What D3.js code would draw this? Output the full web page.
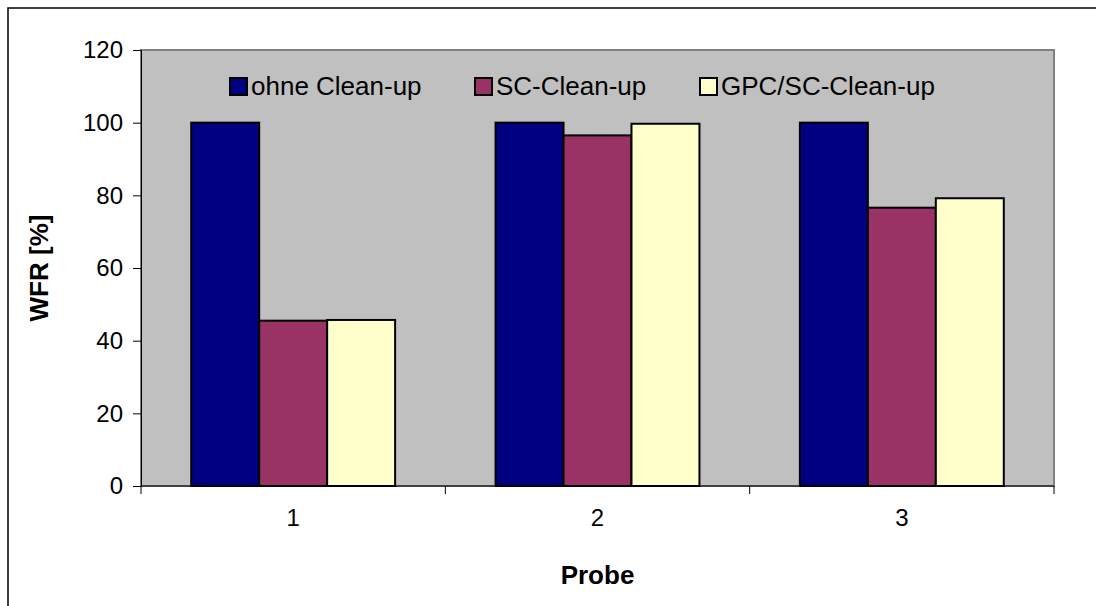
<!DOCTYPE html>
<html>
<head>
<meta charset="utf-8">
<script src="https://cdn.jsdelivr.net/npm/d3@7"></script>
<style>
  html, body { margin: 0; padding: 0; background: #fff; }
  svg { display: block; }
  text { font-family: "Liberation Sans", Arial, sans-serif; }
</style>
</head>
<body>
<svg id="chart" width="1096" height="606"></svg>
<script>
const categories = ["1", "2", "3"];
const seriesNames = ["ohne Clean-up", "SC-Clean-up", "GPC/SC-Clean-up"];
const seriesColors = ["#000080", "#993366", "#FFFFCC"];
const ohneValues = [100, 100, 100];
const scValues = [45.5, 96.5, 76.6];
const gpcValues = [45.7, 99.7, 79.2];
const yTicks = [0, 20, 40, 60, 80, 100, 120];
const yTitle = "WFR [%]";
const xTitle = "Probe";

const seriesValues = [ohneValues, scValues, gpcValues];

const svg = d3.select("#chart");
const W = 1096, H = 606;
const plot = { left: 141, top: 50, right: 1054, bottom: 486 };

// outer border (cut by right and bottom edges)
svg.append("rect")
  .attr("x", 8).attr("y", 8)
  .attr("width", W + 10).attr("height", H + 10)
  .attr("fill", "#fff").attr("stroke", "#000").attr("stroke-width", 1.5);

const x0 = d3.scaleBand().domain(categories).range([plot.left, plot.right]).paddingInner(0).paddingOuter(0);
const groupW = x0.bandwidth() * 0.67;
const x1 = d3.scaleBand().domain(d3.range(seriesNames.length)).range([0, groupW]);
const y = d3.scaleLinear().domain([0, 120]).range([plot.bottom, plot.top]);

// plot area
svg.append("rect")
  .attr("x", plot.left).attr("y", plot.top)
  .attr("width", plot.right - plot.left).attr("height", plot.bottom - plot.top)
  .attr("fill", "#C0C0C0").attr("stroke", "#808080").attr("stroke-width", 2);

// bars
const groups = svg.append("g").selectAll("g")
  .data(categories).join("g")
  .attr("transform", d => `translate(${x0(d) + (x0.bandwidth() - groupW) / 2},0)`);

groups.selectAll("rect")
  .data((d, i) => seriesValues.map((vals, s) => ({ s, v: vals[i] })))
  .join("rect")
  .attr("x", d => x1(d.s))
  .attr("width", x1.bandwidth())
  .attr("y", d => y(d.v))
  .attr("height", d => y(0) - y(d.v))
  .attr("fill", d => seriesColors[d.s])
  .attr("stroke", "#000").attr("stroke-width", 2);

// y axis
const yAxis = d3.axisLeft(y).tickValues(yTicks).tickSize(8).tickPadding(10).tickFormat(d3.format("d"));
const gy = svg.append("g").attr("transform", `translate(${plot.left},0)`).call(yAxis);
gy.select(".domain").attr("stroke", "#000").attr("stroke-width", 1);
gy.selectAll(".tick line").attr("stroke", "#000");
gy.selectAll("text").attr("font-size", 24).attr("fill", "#000")
  .style("font-family", '"Liberation Sans", Arial, sans-serif');

// x axis: ticks at category boundaries
const xAxisLine = svg.append("g");
xAxisLine.append("line")
  .attr("x1", plot.left).attr("x2", plot.right)
  .attr("y1", plot.bottom).attr("y2", plot.bottom)
  .attr("stroke", "#000").attr("stroke-width", 1);
const bounds = categories.map(c => x0(c)).concat([x0(categories[categories.length - 1]) + x0.bandwidth()]);
xAxisLine.selectAll("line.tk").data(bounds).join("line").attr("class", "tk")
  .attr("x1", d => d).attr("x2", d => d)
  .attr("y1", plot.bottom).attr("y2", plot.bottom + 8)
  .attr("stroke", "#000");
xAxisLine.selectAll("text").data(categories).join("text")
  .attr("x", d => x0(d) + x0.bandwidth() / 2)
  .attr("y", plot.bottom + 40)
  .attr("text-anchor", "middle")
  .attr("font-size", 24)
  .text(d => d);

// titles
svg.append("text")
  .attr("transform", `translate(48,${(plot.top + plot.bottom) / 2}) rotate(-90)`)
  .attr("text-anchor", "middle")
  .attr("font-size", 26).attr("font-weight", "bold")
  .text(yTitle);
svg.append("text")
  .attr("x", (plot.left + plot.right) / 2)
  .attr("y", 584)
  .attr("text-anchor", "middle")
  .attr("font-size", 26).attr("font-weight", "bold")
  .text(xTitle);

// legend
const legendX = [230, 475, 700];
const leg = svg.append("g").selectAll("g").data(seriesNames).join("g")
  .attr("transform", (d, i) => `translate(${legendX[i]},78)`);
leg.append("rect")
  .attr("width", 17).attr("height", 17)
  .attr("fill", (d, i) => seriesColors[i])
  .attr("stroke", "#000").attr("stroke-width", 2);
leg.append("text")
  .attr("x", 21).attr("y", 17)
  .attr("font-size", 26)
  .text(d => d);
</script>
</body>
</html>
